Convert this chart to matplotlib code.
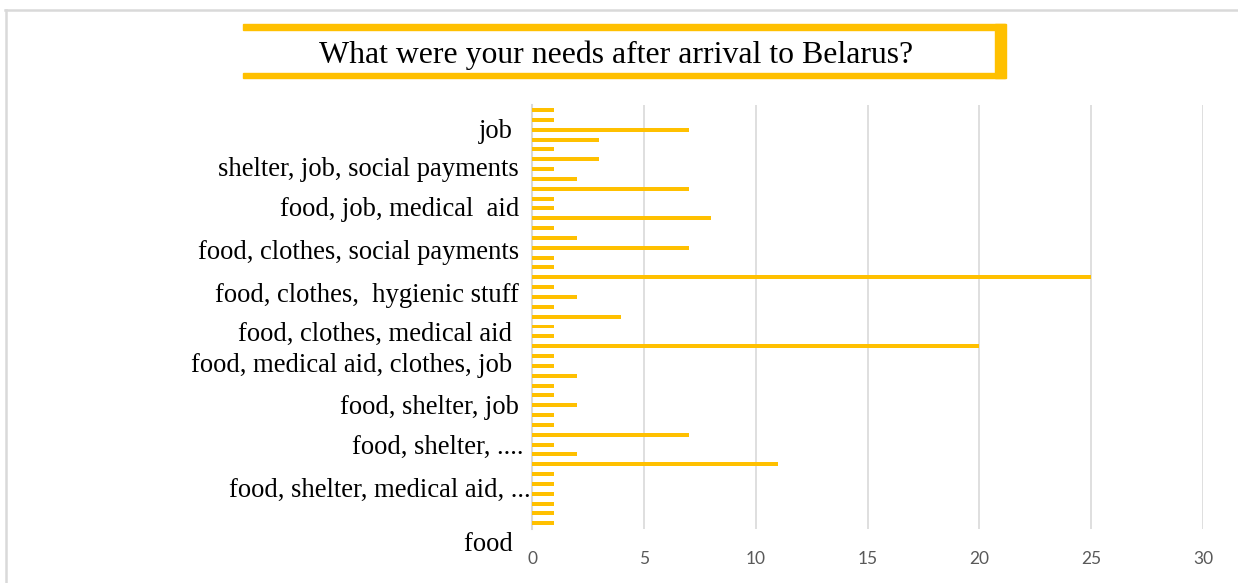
import numpy as np
import matplotlib.pyplot as plt
from matplotlib.patches import Rectangle
from matplotlib.lines import Line2D

# answers, one bar per row, top to bottom
counts = [1, 1, 7, 3, 1, 3, 1, 2, 7, 1, 1, 8, 1, 2, 7,
          1, 1, 25, 1, 2, 1, 4, 1, 1, 20, 1, 1, 2, 1,
          1, 2, 1, 1, 7, 1, 2, 11, 1, 1, 1, 1, 1, 1]

label_text = ["job ", "shelter, job, social payments", "food, job, medical  aid",
              "food, clothes, social payments", "food, clothes,  hygienic stuff",
              "food, clothes, medical aid ", "food, medical aid, clothes, job ",
              "food, shelter, job", "food, shelter, ....",
              "food, shelter, medical aid, ...", "food "]
label_row = [2.15, 6.0, 10.1, 14.45, 18.85, 22.85, 25.95, 30.25, 34.25, 38.65, 44.15]
label_x = [-0.58, -0.58, -0.58, -0.58, -0.58, -0.58, -0.58, -0.58, -0.38, -0.08, -0.58]

xticks = [0, 5, 10, 15, 20, 25, 30]

gold = '#ffc000'
W, H = 1238, 583

fig = plt.figure(figsize=(W / 100, H / 100), dpi=100)
ax = fig.add_axes([532 / W, 1 - 529 / H, 671 / W, 424 / H])

rows = np.arange(len(counts))
ax.barh(rows, counts, height=0.4, color=gold, zorder=3)

ax.set_xlim(0, 30)
ax.set_ylim(42.58, -0.51)
ax.set_xticks(xticks)
ax.set_xticklabels([str(t) for t in xticks], fontsize=12.5, color='#595959', family='Lato')
ax.tick_params(axis='x', length=0, pad=16)
ax.set_yticks([])
ax.grid(axis='x', color='#d9d9d9', linewidth=1.2, zorder=0)
for s in ['top', 'right', 'bottom']:
    ax.spines[s].set_visible(False)
ax.spines['left'].set_color('#d9d9d9')
ax.spines['left'].set_linewidth(1.5)

for txt, r, x in zip(label_text, label_row, label_x):
    ax.text(x, r, txt, ha='right', va='center', fontsize=19.2,
            family='Liberation Serif', color='black', clip_on=False)

# title box (yellow frame, open on the left)
def px(x, y):
    return x / W, 1 - y / H

fig.patches.append(Rectangle(px(243, 29.5), 762 / W, 5 / H, transform=fig.transFigure,
                             color=gold, zorder=5))
fig.patches.append(Rectangle(px(243, 78), 762 / W, 5 / H, transform=fig.transFigure,
                             color=gold, zorder=5))
fig.patches.append(Rectangle(px(995, 78), 10.5 / W, 54 / H, transform=fig.transFigure,
                             color=gold, zorder=5))
fig.text(616 / W, 1 - 55 / H, "What were your needs after arrival to Belarus?",
         ha='center', va='center', fontsize=22.9, family='Liberation Serif')

# outer chart border (only top and left visible)
fig.lines.append(Line2D([5 / W, 1], [1 - 10 / H, 1 - 10 / H], transform=fig.transFigure,
                        color='#d9d9d9', linewidth=1.8))
fig.lines.append(Line2D([6 / W, 6 / W], [1 - 10 / H, 0], transform=fig.transFigure,
                        color='#d9d9d9', linewidth=1.8))

plt.savefig('out.png', dpi=100)
